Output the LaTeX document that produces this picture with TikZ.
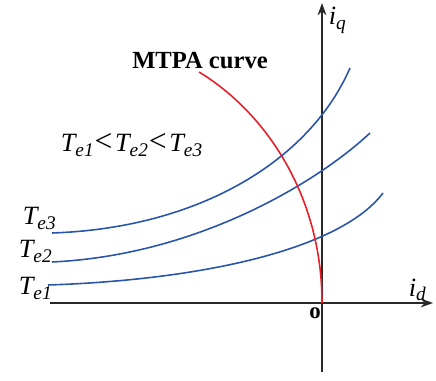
\documentclass[tikz,border=0pt]{standalone}
\usepackage{fontspec}
\setmainfont{Liberation Serif}
\usetikzlibrary{arrows.meta}
\definecolor{tqblue}{RGB}{40,85,170}
\definecolor{mtpared}{RGB}{232,30,40}
\definecolor{axgray}{RGB}{40,40,40}
\newcommand{\Tlab}[1]{T\raisebox{-0.4ex}{\fontsize{11}{12}\selectfont #1}}
\newcommand{\lessbig}{{\upshape\fontsize{18}{18}\selectfont\kern0.5pt<\kern1.5pt}}

\begin{document}
\begin{tikzpicture}[x=0.02cm,y=-0.02cm,line width=0.9pt,
  biglab/.style={font=\fontsize{15}{17}\selectfont\itshape,inner sep=0pt,anchor=base west}]
  \useasboundingbox (0,0) rectangle (436,381);
  \coordinate (O) at (322,303);
  \coordinate (Xl) at (50,303);
  \coordinate (Xr) at (433,303);
  \coordinate (Yb) at (322,372);
  \coordinate (Yt) at (322,3);
  \draw[axgray,-{Stealth[length=7pt,width=5pt]}] (Xl) -- (Xr);
  \draw[axgray,-{Stealth[length=7pt,width=5pt]}] (Yb) -- (Yt);
  % torque curves
  \coordinate (A3) at (52,233);
  \coordinate (B3) at (350,68);
  \coordinate (A2) at (52,262);
  \coordinate (B2) at (370,133);
  \coordinate (A1) at (48,285);
  \coordinate (B1) at (383,193);
  \draw[tqblue] (A3) .. controls (200,228) and (310,160) .. (B3);
  \draw[tqblue] (A2) .. controls (200,255) and (320,180) .. (B2);
  \draw[tqblue] (A1) .. controls (200,280) and (340,250) .. (B1);
  % MTPA
  \coordinate (M) at (199,72);
  \draw[mtpared] (M) .. controls (265,112) and (322,195) .. (O);
  \node[biglab] (te3) at (22,225) {\Tlab{e3}};
  \node[biglab] (te2) at (18,258) {\Tlab{e2}};
  \node[biglab] (te1) at (18,295) {\Tlab{e1}};
  \node[biglab] (order) at (60,152) {\Tlab{e1}\lessbig\Tlab{e2}\lessbig\Tlab{e3}};
  \node[font=\fontsize{14}{16}\selectfont\bfseries,inner sep=0pt,anchor=base] (mtpa) at (200,69) {MTPA curve};
  \node[biglab] (iq) at (328,25) {i\raisebox{-0.4ex}{\fontsize{11}{12}\selectfont q}};
  \node[biglab] (id) at (408,297) {i\raisebox{-0.3ex}{\fontsize{11}{12}\selectfont d}};
  \node[font=\fontsize{13}{14}\selectfont\bfseries] (o) at (315,313) {o};
\end{tikzpicture}
\end{document}
